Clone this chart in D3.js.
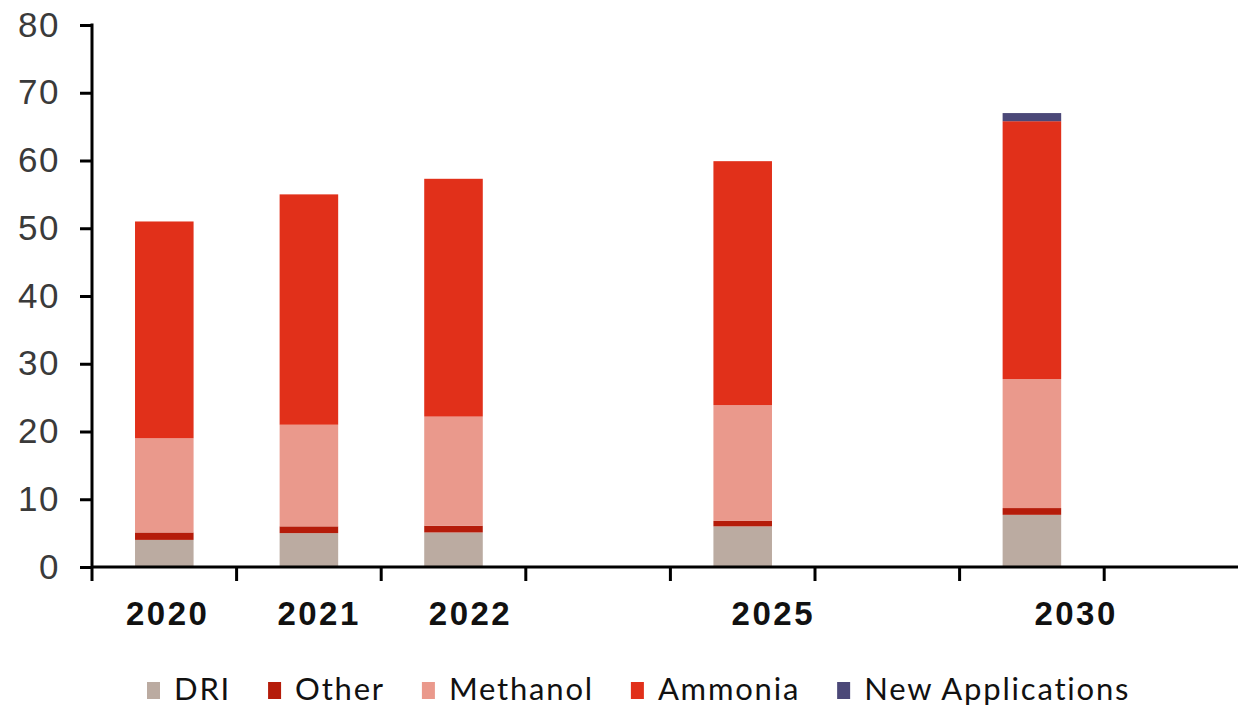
<!DOCTYPE html>
<html>
<head>
<meta charset="utf-8">
<script src="https://cdn.jsdelivr.net/npm/d3@7"></script>
<style>
  html, body { margin: 0; padding: 0; background: #fff; }
  svg { display: block; }
</style>
</head>
<body>
<svg id="chart" width="1238" height="711"></svg>
<script>
// ---- data ----
const categories = ["2020", "2021", "2022", "gap1", "2025", "gap2", "2030", "gap3"];
const tickLabels = ["2020", "2021", "2022", "", "2025", "", "2030", ""];
const seriesNames = ["DRI", "Other", "Methanol", "Ammonia", "New Applications"];
const dri        = [4.0, 5.0, 5.1, 0, 6.0, 0, 7.7, 0];
const other      = [1.1, 1.0, 1.0, 0, 0.8, 0, 1.0, 0];
const methanol   = [13.9, 15.0, 16.1, 0, 17.1, 0, 19.05, 0];
const ammonia    = [32.0, 34.0, 35.1, 0, 36.0, 0, 38.05, 0];
const newApps    = [0, 0, 0, 0, 0, 0, 1.2, 0];
const yTicks     = [0, 10, 20, 30, 40, 50, 60, 70, 80];
const colors     = ["#bbaba1", "#b51c0a", "#ea998c", "#e1301a", "#4b4878"];

const svg = d3.select("#chart");
svg.append("rect").attr("width", 1238).attr("height", 711).attr("fill", "#fff");

const table = categories.map((c, i) => ({
  cat: c,
  "DRI": dri[i], "Other": other[i], "Methanol": methanol[i],
  "Ammonia": ammonia[i], "New Applications": newApps[i]
}));

const left = 92, step = 144.6;
const x0 = d3.scaleBand().domain(categories).range([left, left + step * categories.length]).padding(0);
const xb = x0.copy().paddingInner(0.595).paddingOuter(0.2975);
const xl = d3.scaleBand().domain(categories).range([92, 92 + 151.4 * categories.length]).padding(0);
const y = d3.scaleLinear().domain([0, 80]).range([567, 25]);

const stack = d3.stack().keys(seriesNames)(table);

// bars
svg.append("g").selectAll("g").data(stack).join("g")
  .attr("fill", (d, i) => colors[i])
  .selectAll("rect").data(d => d.filter(p => p[1] - p[0] > 0)).join("rect")
  .attr("x", d => xb(d.data.cat))
  .attr("width", xb.bandwidth())
  .attr("y", d => y(d[1]))
  .attr("height", d => y(d[0]) - y(d[1]));

// y axis
const yAxis = svg.append("g").attr("transform", `translate(${left},0)`)
  .call(d3.axisLeft(y).tickValues(yTicks).tickSize(12).tickPadding(20));
yAxis.select(".domain").remove();
yAxis.selectAll(".tick line").attr("stroke", "#000").attr("stroke-width", 3);
yAxis.selectAll(".tick text")
  .attr("font-family", "Liberation Sans, Arial, sans-serif")
  .attr("font-size", 35).attr("letter-spacing", 1.5).attr("fill", "#3a3a3a");
svg.append("line").attr("x1", left).attr("x2", left)
  .attr("y1", y(80) - 1.5).attr("y2", y(0) + 14)
  .attr("stroke", "#000").attr("stroke-width", 3);

// x axis line + ticks at band boundaries
svg.append("line").attr("x1", left).attr("x2", 1238)
  .attr("y1", y(0)).attr("y2", y(0))
  .attr("stroke", "#000").attr("stroke-width", 3);
svg.append("g").selectAll("line").data(categories.slice(1)).join("line")
  .attr("x1", d => x0(d)).attr("x2", d => x0(d))
  .attr("y1", y(0)).attr("y2", y(0) + 14)
  .attr("stroke", "#000").attr("stroke-width", 3);

// x labels
const xAxis = svg.append("g").attr("transform", `translate(0,${y(0)})`)
  .call(d3.axisBottom(xl).tickSize(0).tickPadding(35).tickFormat((d, i) => tickLabels[i]));
xAxis.select(".domain").remove();
xAxis.selectAll(".tick text")
  .attr("font-family", "Liberation Sans, Arial, sans-serif")
  .attr("font-weight", "bold").attr("font-size", 33).attr("letter-spacing", 2.5)
  .attr("fill", "#111");

// legend
const lg = svg.append("g");
let lx = 147;
seriesNames.forEach((name, i) => {
  lg.append("rect").attr("x", lx).attr("y", 682).attr("width", 13).attr("height", 17).attr("fill", colors[i]);
  const t = lg.append("text").attr("x", lx + 27).attr("y", 700)
    .attr("font-family", "Lato, 'Open Sans', sans-serif")
    .attr("font-size", 31).attr("letter-spacing", 1.8)
    .attr("fill", "#111").text(name);
  lx = lx + 27 + t.node().getComputedTextLength() + 37;
});
</script>
</body>
</html>
